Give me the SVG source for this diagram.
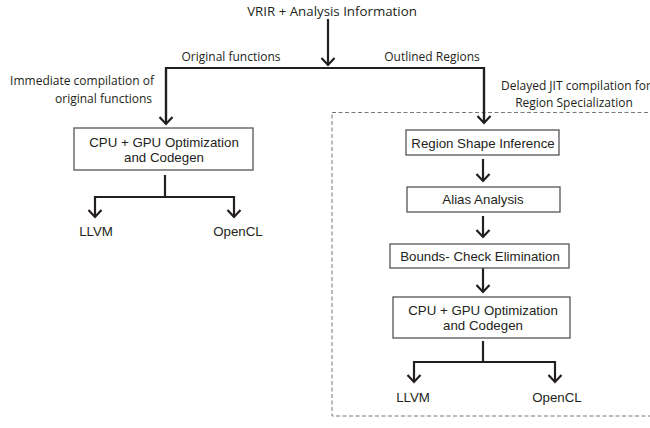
<svg xmlns="http://www.w3.org/2000/svg" width="650" height="428" viewBox="0 0 650 428">
<style>
.lbl{font-family:"Open Sans","Noto Sans",sans-serif;font-size:12px;fill:#231f20}
.ttl{font-family:"Open Sans","Noto Sans",sans-serif;font-size:13.3px;fill:#231f20}
.bt{font-family:"Liberation Sans",Arial,sans-serif;font-size:13.3px;fill:#231f20;text-anchor:middle}
.box{fill:#fff;stroke:#555;stroke-width:1.3}
.ln{fill:none;stroke:#231f20;stroke-width:2.2}
</style>
<defs>
<marker id="ah" markerUnits="userSpaceOnUse" viewBox="-9 -8 11 16" refX="0" refY="0" markerWidth="11" markerHeight="16" orient="auto">
<path d="M-7,-6.5 L0,0 L-7,6.5" fill="none" stroke="#231f20" stroke-width="2.2"/>
</marker>
</defs>
<rect width="650" height="428" fill="#fff"/>
<rect x="332" y="112.5" width="330" height="303.5" fill="none" stroke="#777" stroke-width="1" stroke-dasharray="4,2.5"/>
<g id="connectors">
<path class="ln" d="M328,19 V65" marker-end="url(#ah)"/>
<path class="ln" d="M166,124 V68 H484 V123"/>
<path class="ln" d="M166,68 V124" marker-end="url(#ah)"/>
<path class="ln" d="M484,68 V123" marker-end="url(#ah)"/>
<path class="ln" d="M165,175 V197 M95,197 H234"/>
<path class="ln" d="M95,196 V217" marker-end="url(#ah)"/>
<path class="ln" d="M234,196 V217" marker-end="url(#ah)"/>
<path class="ln" d="M483,159 V181" marker-end="url(#ah)"/>
<path class="ln" d="M483,216 V237" marker-end="url(#ah)"/>
<path class="ln" d="M483,268 V292" marker-end="url(#ah)"/>
<path class="ln" d="M483,341 V362 M414,362 H555"/>
<path class="ln" d="M414,361 V382" marker-end="url(#ah)"/>
<path class="ln" d="M555,361 V382" marker-end="url(#ah)"/>
</g>
<g id="title"><text class="ttl" x="332" y="16" text-anchor="middle">VRIR + Analysis Information</text></g>
<g id="label-original"><text class="lbl" x="231" y="61" text-anchor="middle">Original functions</text></g>
<g id="label-outlined"><text class="lbl" x="432" y="61" text-anchor="middle">Outlined Regions</text></g>
<g id="label-immediate">
<text class="lbl" x="154" y="85" text-anchor="end">Immediate compilation of</text>
<text class="lbl" x="152" y="103" text-anchor="end">original functions</text>
</g>
<g id="label-delayed">
<text class="lbl" x="501" y="90">Delayed JIT compilation for</text>
<text class="lbl" x="574" y="107" text-anchor="middle">Region Specialization</text>
</g>
<g id="cpu-gpu-left">
<rect class="box" x="74" y="128" width="179" height="42"/>
<text class="bt" x="164" y="147">CPU + GPU Optimization</text>
<text class="bt" x="164" y="162">and Codegen</text>
</g>
<g id="llvm-left"><text class="bt" x="96" y="236">LLVM</text></g>
<g id="opencl-left"><text class="bt" x="238" y="236">OpenCL</text></g>
<g id="region-shape">
<rect class="box" x="406" y="130" width="153" height="25"/>
<text class="bt" x="483" y="147.5">Region Shape Inference</text>
</g>
<g id="alias">
<rect class="box" x="407" y="187" width="153" height="25"/>
<text class="bt" x="483" y="204">Alias Analysis</text>
</g>
<g id="bounds">
<rect class="box" x="390" y="244" width="179" height="24"/>
<text class="bt" x="480" y="261">Bounds- Check Elimination</text>
</g>
<g id="cpu-gpu-right">
<rect class="box" x="393" y="297" width="177" height="41"/>
<text class="bt" x="483" y="315">CPU + GPU Optimization</text>
<text class="bt" x="483" y="330">and Codegen</text>
</g>
<g id="llvm-right"><text class="bt" x="413" y="402">LLVM</text></g>
<g id="opencl-right"><text class="bt" x="557" y="402">OpenCL</text></g>
</svg>
